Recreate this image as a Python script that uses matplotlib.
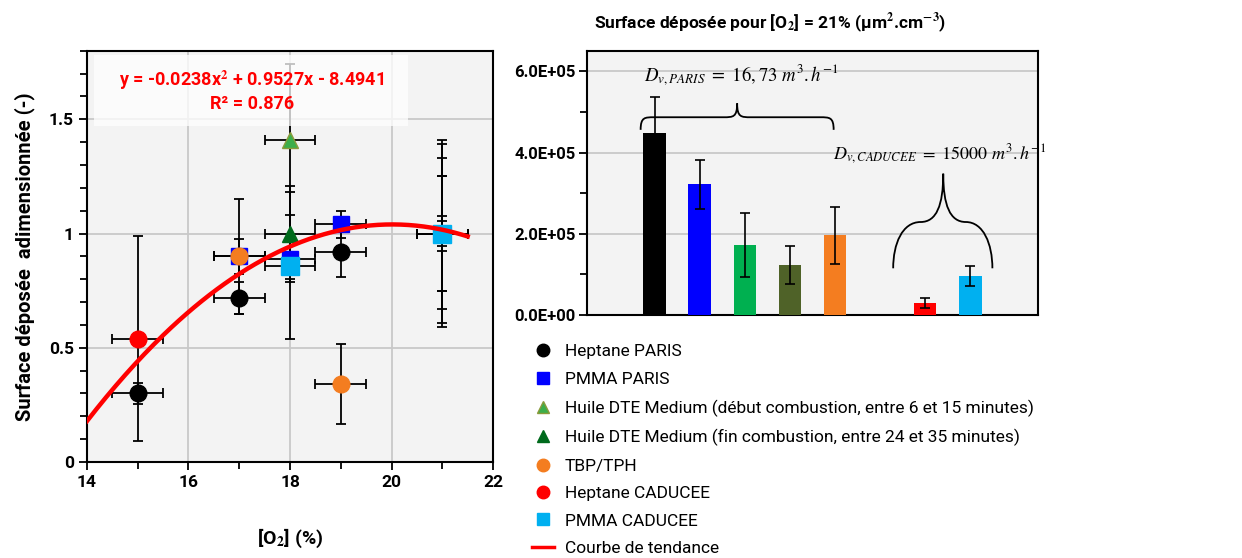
import numpy as np
import matplotlib.pyplot as plt
from matplotlib.path import Path
from matplotlib.patches import PathPatch, Rectangle
from matplotlib.lines import Line2D
from matplotlib.ticker import MultipleLocator

plt.rcParams['font.family'] = ['Roboto', 'DejaVu Sans']
plt.rcParams['mathtext.fontset'] = 'stix'

# --- donnees : surface adimensionnee vs [O2] ---
hep_paris_x = [15, 17, 19, 21]
hep_paris_y = [0.30, 0.72, 0.92, 1.0]
hep_paris_e = [0.045, 0.07, 0.11, 0.077]

pmma_paris_x = [17, 18, 19, 21]
pmma_paris_y = [0.90, 0.89, 1.04, 1.0]
pmma_paris_e = [0.075, 0.09, 0.06, 0.055]

huile_deb_x = [18, 21]
huile_deb_y = [1.41, 1.0]
huile_deb_e = [0.33, 0.39]

huile_fin_x = [18, 21]
huile_fin_y = [1.0, 1.0]
huile_fin_e = [0.21, 0.25]

tbp_x = [17, 19, 21]
tbp_y = [0.90, 0.34, 1.0]
tbp_e = [0.25, 0.175, 0.33]

hep_cad_x = [15, 21]
hep_cad_y = [0.54, 1.0]
hep_cad_e = [0.45, 0.41]

pmma_cad_x = [18, 21]
pmma_cad_y = [0.86, 1.0]
pmma_cad_e = [0.32, 0.25]

o2_err = 0.5
trend_coefs = [-0.0238, 0.9527, -8.4941]

# --- donnees : surface deposee a 21% ---
bar_pos = [0, 1, 2, 3, 4, 6, 7]
bar_vals = [4.48e5, 3.22e5, 1.72e5, 1.23e5, 1.96e5, 0.30e5, 0.96e5]
bar_errs = [0.88e5, 0.60e5, 0.78e5, 0.46e5, 0.70e5, 0.13e5, 0.24e5]
bar_cols = ['#000000', '#0000ff', '#00b050', '#4f6228', '#f47d20', '#ff0000', '#00b0f0']
ytick_vals = [0, 2e5, 4e5, 6e5]
ytick_labels = ['0.0E+00', '2.0E+05', '4.0E+05', '6.0E+05']

fig = plt.figure(figsize=(12.42, 5.58), dpi=100)

# ================= graphe de gauche =================
ax = fig.add_axes([0.070, 0.172, 0.327, 0.737])
ax.set_facecolor('#f3f3f3')

series = [
    (hep_paris_x, hep_paris_y, hep_paris_e, 'o', 'black', 'black', 12, 'Heptane PARIS'),
    (pmma_paris_x, pmma_paris_y, pmma_paris_e, 's', '#0000ff', '#0000ff', 11, 'PMMA PARIS'),
    (huile_deb_x, huile_deb_y, huile_deb_e, '^', '#3cae4a', '#8a9a3a', 12,
     'Huile DTE Medium (début combustion, entre 6 et 15 minutes)'),
    (huile_fin_x, huile_fin_y, huile_fin_e, '^', '#006a1c', '#006a1c', 11,
     'Huile DTE Medium (fin combustion, entre 24 et 35 minutes)'),
    (tbp_x, tbp_y, tbp_e, 'o', '#f47d20', '#f47d20', 12, 'TBP/TPH'),
    (hep_cad_x, hep_cad_y, hep_cad_e, 'o', '#ff0000', '#ff0000', 12, 'Heptane CADUCEE'),
    (pmma_cad_x, pmma_cad_y, pmma_cad_e, 's', '#00b0f0', '#00b0f0', 13, 'PMMA CADUCEE'),
]

handles = []
for x, y, e, m, fc, ec, ms, lab in series:
    ax.errorbar(x, y, yerr=e, xerr=o2_err, fmt='none', ecolor='black',
                elinewidth=1.3, capsize=3.5, capthick=1.3, zorder=3)
for i, (x, y, e, m, fc, ec, ms, lab) in enumerate(series):
    ax.plot(x, y, linestyle='none', marker=m, markersize=ms, markerfacecolor=fc,
            markeredgecolor=ec, zorder=4 + i)
    handles.append(Line2D([], [], linestyle='none', marker=m, markersize=9,
                          markerfacecolor=fc, markeredgecolor=ec, label=lab))

xt = np.linspace(14, 21.5, 200)
ax.plot(xt, np.polyval(trend_coefs, xt), color='#ff0000', lw=3.2, zorder=20)
handles.append(Line2D([], [], color='#ff0000', lw=2.5, label='Courbe de tendance'))

# cadre de l'equation
ax.add_patch(Rectangle((14.14, 1.47), 6.19, 0.31, facecolor='white', edgecolor='none',
                       alpha=0.75, zorder=24))
ax.text(17.25, 1.625, 'y = -0.0238x$^{\\mathbf{2}}$ + 0.9527x - 8.4941\nR² = 0.876',
        color='#ff0000', fontsize=13, fontweight='bold', ha='center', va='center',
        linespacing=1.2, zorder=25)

ax.set_xlim(14, 22)
ax.set_ylim(0, 1.8)
ax.set_xticks([14, 16, 18, 20, 22])
ax.set_yticks([0, 0.5, 1, 1.5])
ax.set_yticklabels(['0', '0.5', '1', '1.5'])
ax.xaxis.set_minor_locator(MultipleLocator(1))
ax.yaxis.set_minor_locator(MultipleLocator(0.1))
ax.grid(True, which='major', color='#c8c8c8', lw=1.3, zorder=0)
ax.set_axisbelow(True)
ax.tick_params(which='both', direction='out', width=1.3, color='black')
ax.tick_params(which='major', length=6, labelsize=12.5)
ax.tick_params(which='minor', length=5)
for lbl in ax.get_xticklabels() + ax.get_yticklabels():
    lbl.set_fontweight('bold')
for s in ax.spines.values():
    s.set_linewidth(1.5)
ax.set_xlabel('[O$_\\mathbf{2}$] (%)', fontsize=14, fontweight='bold', labelpad=26)
ax.set_ylabel('Surface déposée  adimensionnée (-)', fontsize=14.5, fontweight='bold', labelpad=10)

# ================= graphe de droite =================
bx = fig.add_axes([0.4726, 0.4355, 0.3631, 0.473])
bx.set_facecolor('#f3f3f3')
bx.bar(bar_pos, bar_vals, width=0.5, color=bar_cols, zorder=3)
bx.errorbar(bar_pos, bar_vals, yerr=bar_errs, fmt='none', ecolor='black',
            elinewidth=1.2, capsize=3.5, capthick=1.2, zorder=4)
bx.set_xlim(-1.5, 8.5)
bx.set_ylim(0, 6.5e5)
bx.set_xticks([])
bx.set_yticks(ytick_vals)
bx.set_yticklabels(ytick_labels)
bx.yaxis.set_minor_locator(MultipleLocator(1e5))
bx.grid(True, axis='y', which='major', color='#c8c8c8', lw=1.3, zorder=0)
bx.set_axisbelow(True)
bx.tick_params(axis='y', which='both', direction='out', width=1.3)
bx.tick_params(axis='y', which='major', length=6, labelsize=12, pad=2)
bx.tick_params(axis='y', which='minor', length=5)
for lbl in bx.get_yticklabels():
    lbl.set_fontweight('bold')
for s in bx.spines.values():
    s.set_linewidth(1.5)

# accolades
def brace_h(x0, x1, xc, yb, ym, yt, w):
    verts = [(x0, yb), (x0, ym), (x0 + w * 0.3, ym), (x0 + w, ym),
             (xc - w, ym),
             (xc - w * 0.3, ym), (xc, ym), (xc, yt),
             (xc, ym), (xc + w * 0.3, ym), (xc + w, ym),
             (x1 - w, ym),
             (x1 - w * 0.3, ym), (x1, ym), (x1, yb)]
    codes = [Path.MOVETO, Path.CURVE4, Path.CURVE4, Path.CURVE4, Path.LINETO,
             Path.CURVE4, Path.CURVE4, Path.CURVE4,
             Path.CURVE4, Path.CURVE4, Path.CURVE4, Path.LINETO,
             Path.CURVE4, Path.CURVE4, Path.CURVE4]
    return Path(verts, codes)

def brace_big(x0, x1, xc, yb, ys, yt):
    verts = [(x0, yb), (x0, 1.75e5), (x0 + 0.2, ys), (xc - 0.5, ys),
             (xc - 0.15, ys), (xc, 2.7e5), (xc, yt),
             (xc, 2.7e5), (xc + 0.15, ys), (xc + 0.5, ys),
             (x1 - 0.2, ys), (x1, 1.75e5), (x1, yb)]
    codes = [Path.MOVETO] + [Path.CURVE4] * 12
    return Path(verts, codes)

bx.add_patch(PathPatch(brace_h(-0.31, 3.97, 1.83, 4.56e5, 4.87e5, 5.21e5, 0.3),
                       facecolor='none', edgecolor='black', lw=1.3, zorder=5))
bx.add_patch(PathPatch(brace_big(5.29, 7.49, 6.40, 1.15e5, 2.29e5, 3.48e5),
                       facecolor='none', edgecolor='black', lw=1.3, zorder=5))

bx.text(1.93, 5.9e5, '$D_{v,PARIS}\\ =\\ 16,73\\ m^3.h^{-1}$', fontsize=13.5,
        ha='center', va='center', zorder=6)
bx.text(6.33, 3.97e5, '$D_{v,CADUCEE}\\ =\\ 15000\\ m^3.h^{-1}$', fontsize=13,
        ha='center', va='center', zorder=6)

fig.text(0.62, 0.958, 'Surface déposée pour [O$_\\mathbf{2}$] = 21% (µm$^\\mathbf{2}$.cm$^{\\mathbf{-3}}$)',
         fontsize=12.5, fontweight='bold', ha='center', va='center')

fig.legend(handles=handles, loc='upper left', bbox_to_anchor=(0.428, 0.383),
           frameon=False, fontsize=12.5, handlelength=1.3, handletextpad=0.6,
           labelspacing=0.71, borderaxespad=0, borderpad=0)

fig.savefig('out.png', dpi=100)
